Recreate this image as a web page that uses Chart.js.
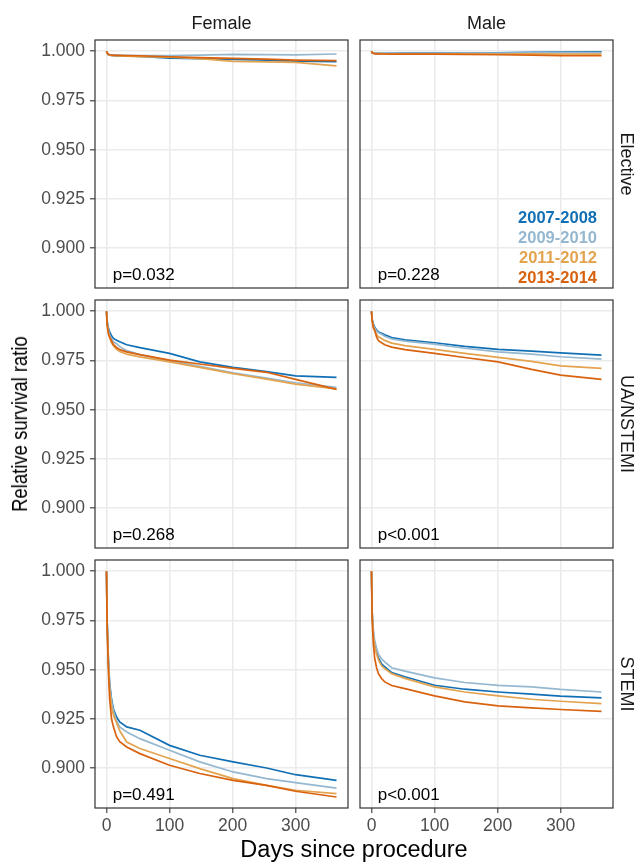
<!DOCTYPE html>
<html>
<head>
<meta charset="utf-8">
<script src="https://cdn.jsdelivr.net/npm/chart.js@4.4.1/dist/chart.umd.min.js"></script>
<style>
  html, body { margin: 0; padding: 0; background: #fff; }
  #wrap { position: relative; width: 639px; height: 862px; overflow: hidden; font-family: "Liberation Sans", Arial, sans-serif; }
  canvas { position: absolute; }
  .lbl { position: absolute; white-space: nowrap; line-height: 1; }
</style>
</head>
<body>
<div id="wrap"></div>
<script>
var DAYS = [0, 1, 3, 5, 8, 11, 16, 21, 32, 53, 100, 148, 201, 254, 300, 365];
var COHORTS = ['2007-2008', '2009-2010', '2011-2012', '2013-2014'];
var COLORS = ['#1170B5', '#95B8D0', '#E3A34F', '#D9620F'];
var SEXES = ['Female', 'Male'];
var TYPES = ['Elective', 'UA/NSTEMI', 'STEMI'];
var X_TICKS = [0, 100, 200, 300];
var Y_TICKS = [0.9, 0.925, 0.95, 0.975, 1.0];
var P_VALUES = [['p=0.032', 'p=0.228'], ['p=0.268', 'p<0.001'], ['p=0.491', 'p<0.001']];

// one row per cohort (2007-2008, 2009-2010, 2011-2012, 2013-2014)
var FEMALE_ELECTIVE = [
  [1.000, 0.9990, 0.9982, 0.9980, 0.9979, 0.9978, 0.9978, 0.9977, 0.9976, 0.9974, 0.9965, 0.9962, 0.9958, 0.9955, 0.9950, 0.9947],
  [1.000, 0.9990, 0.9983, 0.9981, 0.9980, 0.9980, 0.9980, 0.9979, 0.9979, 0.9978, 0.9978, 0.9980, 0.9984, 0.9983, 0.9981, 0.9986],
  [1.000, 0.9990, 0.9982, 0.9980, 0.9979, 0.9978, 0.9977, 0.9976, 0.9975, 0.9973, 0.9970, 0.9962, 0.9948, 0.9946, 0.9943, 0.9926],
  [1.000, 0.9992, 0.9985, 0.9982, 0.9981, 0.9980, 0.9979, 0.9979, 0.9978, 0.9977, 0.9972, 0.9968, 0.9964, 0.9960, 0.9955, 0.9952]
];
var MALE_ELECTIVE = [
  [1.000, 0.9993, 0.9990, 0.9989, 0.9989, 0.9989, 0.9989, 0.9989, 0.9989, 0.9990, 0.9990, 0.9991, 0.9992, 0.9994, 0.9995, 0.9997],
  [1.000, 0.9993, 0.9990, 0.9989, 0.9989, 0.9988, 0.9988, 0.9988, 0.9988, 0.9989, 0.9989, 0.9990, 0.9991, 0.9992, 0.9993, 0.9993],
  [1.000, 0.9993, 0.9990, 0.9989, 0.9988, 0.9988, 0.9988, 0.9987, 0.9987, 0.9987, 0.9987, 0.9987, 0.9986, 0.9987, 0.9986, 0.9985],
  [1.000, 0.9992, 0.9989, 0.9988, 0.9987, 0.9987, 0.9986, 0.9986, 0.9985, 0.9985, 0.9985, 0.9984, 0.9982, 0.9980, 0.9978, 0.9977]
];
var FEMALE_NSTEMI = [
  [1.000, 0.9950, 0.9915, 0.9895, 0.9875, 0.9862, 0.9853, 0.9845, 0.9830, 0.9815, 0.9786, 0.9743, 0.9715, 0.9693, 0.9672, 0.9664],
  [1.000, 0.9945, 0.9905, 0.9880, 0.9860, 0.9845, 0.9835, 0.9820, 0.9800, 0.9780, 0.9748, 0.9720, 0.9687, 0.9660, 0.9637, 0.9613],
  [1.000, 0.9940, 0.9895, 0.9865, 0.9840, 0.9825, 0.9806, 0.9795, 0.9782, 0.9768, 0.9743, 0.9715, 0.9683, 0.9655, 0.9630, 0.9606],
  [1.000, 0.9930, 0.9885, 0.9870, 0.9850, 0.9830, 0.9816, 0.9805, 0.9794, 0.9780, 0.9752, 0.9732, 0.9710, 0.9690, 0.9654, 0.9603]
];
var MALE_NSTEMI = [
  [1.000, 0.9960, 0.9935, 0.9920, 0.9905, 0.9895, 0.9888, 0.9880, 0.9866, 0.9855, 0.9840, 0.9822, 0.9806, 0.9797, 0.9789, 0.9777],
  [1.000, 0.9958, 0.9930, 0.9915, 0.9900, 0.9890, 0.9883, 0.9873, 0.9860, 0.9848, 0.9833, 0.9812, 0.9794, 0.9782, 0.9769, 0.9757],
  [1.000, 0.9955, 0.9920, 0.9900, 0.9882, 0.9870, 0.9862, 0.9852, 0.9838, 0.9825, 0.9806, 0.9786, 0.9766, 0.9745, 0.9723, 0.9710],
  [1.000, 0.9950, 0.9915, 0.9904, 0.9870, 0.9850, 0.9840, 0.9830, 0.9818, 0.9805, 0.9786, 0.9765, 0.9743, 0.9705, 0.9676, 0.9654]
];
var FEMALE_STEMI = [
  [1.000, 0.975, 0.955, 0.943, 0.935, 0.930, 0.926, 0.9235, 0.921, 0.9193, 0.9116, 0.9066, 0.9032, 0.9001, 0.8967, 0.8938],
  [1.000, 0.975, 0.955, 0.942, 0.934, 0.929, 0.924, 0.921, 0.9184, 0.915, 0.9091, 0.9032, 0.8981, 0.8947, 0.8927, 0.8899],
  [1.000, 0.974, 0.953, 0.940, 0.931, 0.927, 0.923, 0.919, 0.9133, 0.910, 0.9049, 0.8998, 0.8947, 0.8913, 0.8888, 0.8871],
  [1.000, 0.972, 0.950, 0.935, 0.925, 0.921, 0.916, 0.9135, 0.9108, 0.9074, 0.9015, 0.8973, 0.8938, 0.8913, 0.8883, 0.8854]
];
var MALE_STEMI = [
  [1.000, 0.979, 0.968, 0.963, 0.959, 0.956, 0.953, 0.9515, 0.9485, 0.9464, 0.9421, 0.9401, 0.9387, 0.9376, 0.9366, 0.9357],
  [1.000, 0.980, 0.970, 0.965, 0.961, 0.958, 0.9555, 0.954, 0.951, 0.9493, 0.9459, 0.9435, 0.9421, 0.9413, 0.940, 0.9387],
  [1.000, 0.979, 0.967, 0.962, 0.958, 0.955, 0.952, 0.9506, 0.948, 0.9456, 0.9413, 0.9387, 0.9367, 0.935, 0.934, 0.9328],
  [1.000, 0.976, 0.963, 0.956, 0.951, 0.948, 0.9455, 0.9438, 0.942, 0.9404, 0.9367, 0.9337, 0.9316, 0.9306, 0.9298, 0.9289]
];
var PANELS = [[FEMALE_ELECTIVE, MALE_ELECTIVE], [FEMALE_NSTEMI, MALE_NSTEMI], [FEMALE_STEMI, MALE_STEMI]];

Chart.defaults.font.family = '"Liberation Sans", Arial, sans-serif';

(function() {
  var wrap = document.getElementById('wrap');
  var COL_X = [95, 360];
  var ROW_Y = [40, 300, 560];
  var PW = 253, PH = 248;
  var PAD = 20, YAXIS_W = 60, XAXIS_H = 30;

  var panelBorder = {
    id: 'panelBorder',
    afterDraw: function(chart) {
      var a = chart.chartArea, ctx = chart.ctx;
      ctx.save();
      ctx.strokeStyle = '#333333';
      ctx.lineWidth = 1.2;
      ctx.strokeRect(a.left, a.top, a.right - a.left, a.bottom - a.top);
      ctx.restore();
    }
  };

  function addLabel(text, x, y, css, transform) {
    var d = document.createElement('div');
    d.className = 'lbl';
    d.textContent = text;
    d.style.left = x + 'px';
    d.style.top = y + 'px';
    d.style.transform = transform;
    for (var k in css) d.style[k] = css[k];
    wrap.appendChild(d);
  }

  function makePanel(r, c) {
    var showY = c === 0, showX = r === 2;
    var cx = COL_X[c] - PAD - (showY ? YAXIS_W : 0);
    var cy = ROW_Y[r] - PAD;
    var w = PW + 2 * PAD + (showY ? YAXIS_W : 0);
    var h = PH + 2 * PAD + (showX ? XAXIS_H : 0);
    var canvas = document.createElement('canvas');
    canvas.width = w; canvas.height = h;
    canvas.style.left = cx + 'px'; canvas.style.top = cy + 'px';
    canvas.style.width = w + 'px'; canvas.style.height = h + 'px';
    wrap.appendChild(canvas);

    var values = PANELS[r][c];
    var datasets = COHORTS.map(function(name, i) {
      return {
        label: name,
        data: DAYS.map(function(d, j) { return { x: d, y: values[i][j] }; }),
        borderColor: COLORS[i],
        borderWidth: 1.7,
        pointRadius: 0,
        tension: 0,
        fill: false,
        order: COHORTS.length - i
      };
    });

    new Chart(canvas.getContext('2d'), {
      type: 'line',
      data: { datasets: datasets },
      plugins: [panelBorder],
      options: {
        responsive: false,
        animation: false,
        layout: { padding: PAD },
        plugins: { legend: { display: false }, tooltip: { enabled: false } },
        scales: {
          x: {
            type: 'linear', min: -18.25, max: 383.25,
            afterBuildTicks: function(s) { s.ticks = X_TICKS.map(function(v) { return { value: v }; }); },
            afterFit: function(s) { s.height = showX ? XAXIS_H : 0; },
            ticks: { display: showX, color: '#4D4D4D', font: { size: 17.5 }, padding: 3, maxRotation: 0, autoSkip: false },
            grid: { color: '#EBEBEB', lineWidth: 1.6, drawTicks: showX, tickLength: 5, tickColor: '#333333', tickWidth: 1.1 },
            border: { display: false }
          },
          y: {
            type: 'linear', min: 0.8798, max: 1.0057,
            afterBuildTicks: function(s) { s.ticks = Y_TICKS.map(function(v) { return { value: v }; }); },
            afterFit: function(s) { s.width = showY ? YAXIS_W : 0; },
            ticks: { display: showY, color: '#4D4D4D', font: { size: 17.5 }, padding: 5,
              callback: function(v) { return Number(v).toFixed(3); } },
            grid: { color: '#EBEBEB', lineWidth: 1.6, drawTicks: showY, tickLength: 5, tickColor: '#333333', tickWidth: 1.1 },
            border: { display: false }
          }
        }
      }
    });

    addLabel(P_VALUES[r][c], COL_X[c] + 17.7, ROW_Y[r] + PH - 14,
      { fontSize: '17px', color: '#000' }, 'translate(0,-50%)');
  }

  for (var r = 0; r < 3; r++) {
    for (var c = 0; c < 2; c++) makePanel(r, c);
  }

  // facet strips
  SEXES.forEach(function(s, c) {
    addLabel(s, COL_X[c] + PW / 2, 23, { fontSize: '18px', color: '#1A1A1A' }, 'translate(-50%,-50%)');
  });
  TYPES.forEach(function(t, r) {
    addLabel(t, 627, ROW_Y[r] + PH / 2, { fontSize: '18px', color: '#1A1A1A' }, 'translate(-50%,-50%) rotate(90deg)');
  });

  // axis titles
  addLabel('Relative survival ratio', 20, 424, { fontSize: '22px', color: '#000' }, 'translate(-50%,-50%) rotate(-90deg) scaleX(0.84)');
  addLabel('Days since procedure', 354, 850, { fontSize: '23.5px', color: '#000' }, 'translate(-50%,-50%)');

  // cohort key inside the Male / Elective panel
  COHORTS.forEach(function(name, i) {
    addLabel(name, 597, 216.7 + 20 * i, { fontSize: '16.5px', fontWeight: 'bold', color: COLORS[i] }, 'translate(-100%,-50%)');
  });
})();
</script>
</body>
</html>
